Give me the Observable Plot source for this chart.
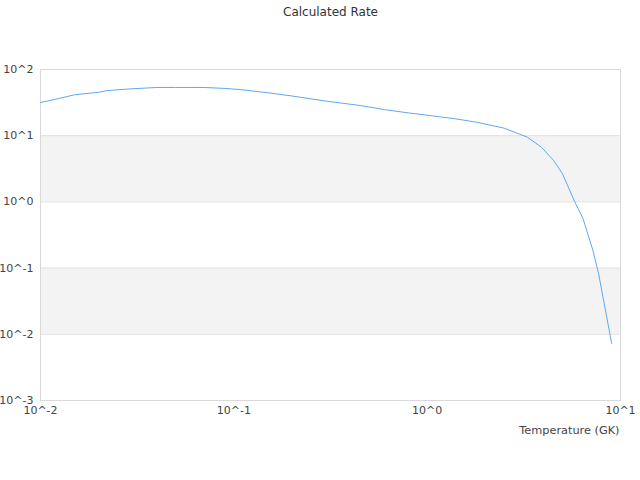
<!DOCTYPE html>
<html>
<head>
<meta charset="utf-8">
<script src="https://cdn.jsdelivr.net/npm/d3@7"></script>
<script src="https://cdn.jsdelivr.net/npm/@observablehq/plot@0.6"></script>
<style>
  html, body { margin: 0; padding: 0; background: #fff; }
  #chart svg { display: block; font-family: "DejaVu Sans", sans-serif; }
</style>
</head>
<body>
<div id="chart"></div>
<script>
const title = "Calculated Rate";
const xLabel = "Temperature (GK)";
const temperature = [0.01, 0.012, 0.015, 0.02, 0.022, 0.03, 0.04, 0.05, 0.07, 0.09, 0.11, 0.15, 0.2, 0.3, 0.45, 0.6, 0.8, 1.0, 1.4, 1.8, 2.5, 3.3, 3.9, 4.5, 5.0, 5.8, 6.4, 7.2, 7.7, 9.0];
const rate = [31.7, 35.6, 41.5, 45.3, 48, 51.2, 53.5, 53.6, 53.5, 51.8, 49.5, 44.5, 39.8, 33.3, 28.6, 24.8, 22.1, 20.4, 18, 16, 13, 9.5, 6.7, 4.25, 2.7, 1.0, 0.56, 0.185, 0.083, 0.0073];
const xTicks = [0.01, 0.1, 1, 10];
const yTicks = [0.001, 0.01, 0.1, 1, 10, 100];
const bandLow = [1, 0.01];
const bandHigh = [10, 0.1];

const data = temperature.map((t, i) => ({t, r: rate[i]}));
const bands = bandLow.map((lo, i) => ({lo, hi: bandHigh[i]}));
const fmt = d => "10^" + Math.round(Math.log10(d));

const chart = Plot.plot({
  width: 640,
  height: 480,
  marginLeft: 40,
  marginRight: 20,
  marginTop: 69,
  marginBottom: 80,
  style: {fontFamily: "DejaVu Sans, sans-serif", fontSize: "11px", color: "#444", background: "#fff"},
  x: {type: "log", domain: [0.01, 10]},
  y: {type: "log", domain: [0.001, 100]},
  marks: [
    Plot.rect(bands, {y1: "lo", y2: "hi", fill: "#f3f3f3"}),
    Plot.ruleY(yTicks, {stroke: "#e2e2e2"}),
    Plot.frame({stroke: "#d9d9d9"}),
    Plot.line(data, {x: "t", y: "r", stroke: "#5ea8f0", strokeWidth: 1}),
    Plot.axisX({ticks: xTicks, tickFormat: fmt, tickSize: 0, tickPadding: 6, label: null, fill: "#444"}),
    Plot.axisY({ticks: yTicks, tickFormat: fmt, tickSize: 0, tickPadding: 7, label: null, fill: "#444"}),
    Plot.text([xLabel], {frameAnchor: "bottom-right", text: d => d, dx: -1, dy: 33, textAnchor: "end", fontSize: 11.3, fill: "#444"}),
    Plot.text([title], {frameAnchor: "top", text: d => d, dy: -62, fontSize: 12, fill: "#333"})
  ]
});
document.getElementById("chart").appendChild(chart);
</script>
</body>
</html>
